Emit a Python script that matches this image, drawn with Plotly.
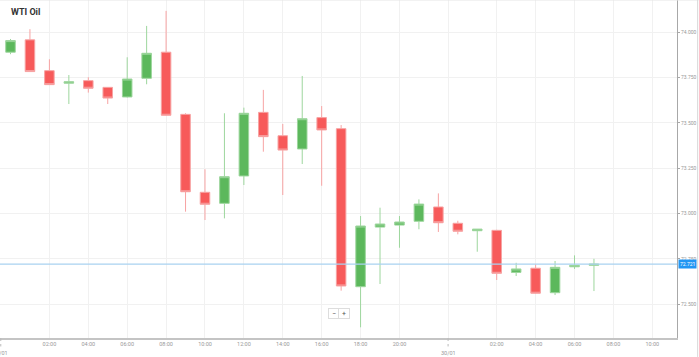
import plotly.graph_objects as go

# Hourly WTI Oil candles: 29/01 00:00-22:00, 30/01 00:00-07:00
hours = ["29/01 00:00", "01:00", "02:00", "03:00", "04:00", "05:00", "06:00", "07:00",
         "08:00", "09:00", "10:00", "11:00", "12:00", "13:00", "14:00", "15:00",
         "16:00", "17:00", "18:00", "19:00", "20:00", "21:00", "22:00",
         "30/01 00:00", "01:00", "02:00", "03:00", "04:00", "05:00", "06:00", "07:00"]
open_ = [73.890, 73.958, 73.788, 73.719, 73.733, 73.696, 73.643, 73.746, 73.890, 73.547,
         73.117, 73.056, 73.207, 73.558, 73.429, 73.356, 73.529, 73.468, 72.596, 72.925,
         72.936, 72.957, 73.036, 72.946, 72.905, 72.907, 72.675, 72.698, 72.563, 72.706, 72.714]
high = [73.963, 74.017, 73.851, 73.764, 73.752, 73.697, 73.862, 74.035, 74.118, 73.553,
        73.244, 73.553, 73.584, 73.682, 73.494, 73.759, 73.593, 73.488, 72.986, 73.032,
        72.986, 73.078, 73.111, 72.960, 72.914, 72.910, 72.728, 72.720, 72.738, 72.769, 72.750]
low = [73.879, 73.781, 73.709, 73.604, 73.667, 73.604, 73.640, 73.713, 73.540, 73.010,
       72.964, 72.973, 73.157, 73.341, 73.102, 73.273, 73.153, 72.574, 72.372, 72.611,
       72.811, 72.913, 72.898, 72.885, 72.789, 72.633, 72.655, 72.558, 72.550, 72.694, 72.572]
close = [73.954, 73.783, 73.711, 73.727, 73.691, 73.637, 73.742, 73.884, 73.542, 73.120,
         73.051, 73.203, 73.553, 73.424, 73.350, 73.523, 73.461, 72.600, 72.931, 72.942,
         72.953, 73.052, 72.949, 72.902, 72.914, 72.670, 72.694, 72.560, 72.703, 72.714, 72.721]

# axis labels (positions are candle indices; day labels sit at the day boundary)
hour_tick_pos = [2, 4, 6, 8, 10, 12, 14, 16, 18, 20, 25, 27, 29, 31, 33]
hour_tick_text = ["02:00", "04:00", "06:00", "08:00", "10:00", "12:00", "14:00", "16:00",
                  "18:00", "20:00", "02:00", "04:00", "06:00", "08:00", "10:00"]
day_tick_pos = [-0.5, 22.5]
day_tick_text = ["29/01", "30/01"]
y_ticks = [72.5, 72.75, 73.0, 73.25, 73.5, 73.75, 74.0]

idx = list(range(len(hours)))
FONT = "Roboto"

fig = go.Figure()
fig.add_trace(go.Candlestick(
    x=idx, open=open_, high=high, low=low, close=close,
    increasing=dict(line=dict(color="#9dd69d", width=1), fillcolor="#5cb85c"),
    decreasing=dict(line=dict(color="#f7a3a3", width=1), fillcolor="#f75a5a"),
    whiskerwidth=0, showlegend=False, hoverinfo="skip",
))

last = close[-1]
fig.add_hline(y=last, line=dict(color="#a9d2f0", width=1.2))

fig.update_layout(
    width=699, height=357,
    margin=dict(l=0, r=22, t=0, b=19, autoexpand=False),
    paper_bgcolor="white", plot_bgcolor="white",
    boxgap=0.3,
    font=dict(family=FONT, size=5, color="#999999"),
    xaxis=dict(
        range=[-0.54, 34.27], rangeslider=dict(visible=False),
        tickvals=hour_tick_pos + day_tick_pos,
        ticktext=hour_tick_text + ["", ""],
        showgrid=True, gridcolor="#f1f1f1", gridwidth=1,
        showline=True, linecolor="#c4c4c4", linewidth=1.5,
        ticks="", tickfont=dict(size=5.5, color="#999999"),
        zeroline=False, fixedrange=True,
    ),
    yaxis=dict(
        range=[72.313, 74.178], side="right",
        tickvals=y_ticks, tickformat=".3f",
        showgrid=True, gridcolor="#f1f1f1", gridwidth=1,
        showline=True, linecolor="#a8a8a8", linewidth=1,
        ticks="outside", ticklen=2, tickcolor="#a8a8a8",
        tickfont=dict(size=5, color="#999999"),
        zeroline=False, fixedrange=True,
    ),
)

# day labels on a second row
for p, t in zip(day_tick_pos, day_tick_text):
    fig.add_annotation(x=p, y=0, xref="x", yref="paper", text=t, showarrow=False,
                       yanchor="top", yshift=-10, font=dict(size=5.5, color="#999999"))
    fig.add_shape(type="line", x0=p, x1=p, y0=0, y1=-0.025, xref="x", yref="paper",
                  line=dict(color="#bbbbbb", width=1, dash="dot"))

# top frame and outer right border
fig.add_shape(type="line", x0=0, x1=1.032, y0=1, y1=1, xref="paper", yref="paper",
              line=dict(color="#e6e6e6", width=1))
fig.add_shape(type="line", x0=1.0305, x1=1.0305, y0=1, y1=-0.056, xref="paper", yref="paper",
              line=dict(color="#d8d8d8", width=1))

# title
fig.add_annotation(x=0.014, y=0.965, xref="paper", yref="paper", text="<b>WTI Oil</b>",
                   showarrow=False, xanchor="left", yanchor="middle",
                   font=dict(family=FONT, size=9, color="#333333"))

# current price label
fig.add_annotation(x=1.0, y=last, xref="paper", yref="y", text=f"{last:.3f}",
                   showarrow=False, xanchor="left", yanchor="middle", xshift=1,
                   bgcolor="#2196f3", font=dict(size=5, color="white"), borderpad=1)

# zoom buttons
for xp, t in [(0.4935, "−"), (0.5085, "+")]:
    fig.add_annotation(x=xp, y=0.056, xref="paper", yref="paper", text=t, showarrow=False,
                       bgcolor="white", bordercolor="#dddddd", borderwidth=1, borderpad=1,
                       width=8, height=7, font=dict(size=7, color="#555555"))

fig.write_html("out.html",
               config={"displayModeBar": False, "staticPlot": True},
               post_script="document.body.style.margin='0';document.body.style.padding='0';"
                           "document.body.style.overflow='hidden';")
